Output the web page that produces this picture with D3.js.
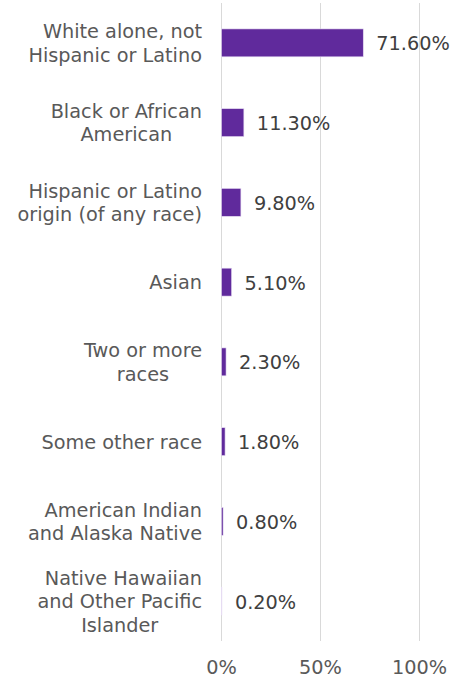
<!DOCTYPE html>
<html>
<head>
<meta charset="utf-8">
<script src="https://cdn.jsdelivr.net/npm/d3@7"></script>
<style>
  html, body { margin: 0; padding: 0; background: #ffffff; }
  svg { display: block; }
  text { font-family: "DejaVu Sans", Verdana, sans-serif; }
</style>
</head>
<body>
<svg id="chart" width="467" height="680"></svg>
<script>
// ---- data ----
const categories = [
  "White alone, not Hispanic or Latino",
  "Black or African American",
  "Hispanic or Latino origin (of any race)",
  "Asian",
  "Two or more races",
  "Some other race",
  "American Indian and Alaska Native",
  "Native Hawaiian and Other Pacific Islander"
];
const labelLines = [
  ["White alone, not", "Hispanic or Latino"],
  ["Black or African", "American"],
  ["Hispanic or Latino", "origin (of any race)"],
  ["Asian"],
  ["Two or more", "races"],
  ["Some other race"],
  ["American Indian", "and Alaska Native"],
  ["Native Hawaiian", "and Other Pacific", "Islander"]
];
const values = [0.716, 0.113, 0.098, 0.051, 0.023, 0.018, 0.008, 0.002];
const tickValues = [0, 0.5, 1];
const tickLabels = ["0%", "50%", "100%"];

// ---- layout ----
const svg = d3.select("#chart");
const fontSize = 19.3;
const lineH = 23.6;
const barColor = "#602a9c";
const gridColor = "#d9d9d9";
const catColor = "#595959";
const valColor = "#404040";

const x = d3.scaleLinear().domain([0, 1]).range([221.5, 419.5]);
const y = d3.scaleBand().domain(categories).range([3, 641])
  .paddingInner(0.65).paddingOuter(0.325);

// gridlines
svg.append("g").selectAll("line").data(tickValues).join("line")
  .attr("x1", d => Math.round(x(d) - 0.5) + 0.5)
  .attr("x2", d => Math.round(x(d) - 0.5) + 0.5)
  .attr("y1", 3).attr("y2", 641)
  .attr("stroke", gridColor).attr("stroke-width", 1);

// bars
svg.append("g").selectAll("rect").data(values).join("rect")
  .attr("x", x(0))
  .attr("y", (d, i) => y(categories[i]))
  .attr("width", d => x(d) - x(0))
  .attr("height", y.bandwidth())
  .attr("fill", barColor)
  .attr("stroke", "#e6dcf2").attr("stroke-width", 0.6);

// value labels
const fmt = d3.format(".2%");
svg.append("g").selectAll("text").data(values).join("text")
  .attr("x", d => x(d) + 13)
  .attr("y", (d, i) => y(categories[i]) + y.bandwidth() / 2 + 7.5)
  .attr("font-size", fontSize)
  .attr("fill", valColor)
  .text(d => fmt(d));

// category labels
const labelRight = 202;
const catG = svg.append("g");
labelLines.forEach((lines, i) => {
  const cy = y(categories[i]) + y.bandwidth() / 2;
  const n = lines.length;
  const base0 = cy + 7 - (n - 1) * lineH / 2;
  const g = catG.append("g");
  const texts = lines.map((ln, j) => g.append("text")
    .attr("y", base0 + j * lineH)
    .attr("font-size", fontSize)
    .attr("fill", catColor)
    .text(ln));
  const widths = texts.map(t => t.node().getComputedTextLength());
  const maxW = d3.max(widths);
  const center = labelRight - maxW / 2;
  texts.forEach((t, j) => {
    if (j === 0) {
      t.attr("x", labelRight).attr("text-anchor", "end");
    } else {
      t.attr("x", center).attr("text-anchor", "middle");
    }
  });
});

// x axis tick labels
svg.append("g").selectAll("text").data(tickValues).join("text")
  .attr("x", d => x(d))
  .attr("y", 674)
  .attr("text-anchor", "middle")
  .attr("font-size", fontSize)
  .attr("fill", catColor)
  .text((d, i) => tickLabels[i]);
</script>
</body>
</html>
